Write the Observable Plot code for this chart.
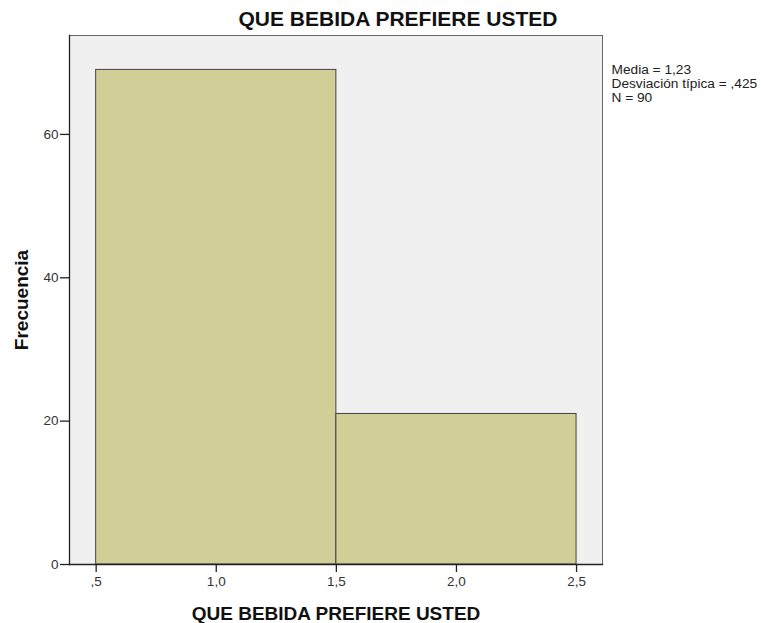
<!DOCTYPE html>
<html>
<head>
<meta charset="utf-8">
<script src="https://cdn.jsdelivr.net/npm/d3@7"></script>
<script src="https://cdn.jsdelivr.net/npm/@observablehq/plot@0.6"></script>
<style>
  body { margin: 0; background: #fff; }
</style>
</head>
<body>
<div id="chart"></div>
<script>
// Data
const binStart = [0.5, 1.5];
const binEnd = [1.5, 2.5];
const counts = [69, 21];
const xTicks = [0.5, 1.0, 1.5, 2.0, 2.5];
const yTicks = [0, 20, 40, 60];
const title = "QUE BEBIDA PREFIERE USTED";
const xLabel = "QUE BEBIDA PREFIERE USTED";
const yLabel = "Frecuencia";
const statsLines = ["Media = 1,23", "Desviación típica = ,425", "N = 90"];

const bins = binStart.map((s, i) => ({x1: s, x2: binEnd[i], count: counts[i]}));

const fmt = v => {
  let s = v.toFixed(1).replace(".", ",");
  if (s.startsWith("0,")) s = s.slice(1);
  return s;
};

const chart = Plot.plot({
  width: 761,
  height: 623,
  marginLeft: 69,
  marginRight: 159,
  marginTop: 35,
  marginBottom: 59,
  style: {fontFamily: "'Liberation Sans', Arial, sans-serif", color: "#222", background: "#fff"},
  x: {domain: [0.389, 2.608], ticks: xTicks, tickFormat: fmt},
  y: {domain: [0, 73.8], ticks: yTicks},
  marks: [
    Plot.frame({fill: "#f0f0f0", stroke: "#666", strokeWidth: 1}),
    Plot.rectY(bins, {x1: "x1", x2: "x2", y: "count", fill: "#d2ce98", stroke: "#444", strokeWidth: 1, inset: 0}),
    Plot.frame({anchor: "left", stroke: "#222", strokeWidth: 1.3}),
    Plot.frame({anchor: "bottom", stroke: "#222", strokeWidth: 1.3}),
    Plot.axisX({ticks: xTicks, tickFormat: fmt, tickSize: 8, tickPadding: 4, fontSize: 13.5, label: null, stroke: "#222", strokeWidth: 1.3, fill: "#333"}),
    Plot.axisY({ticks: yTicks, tickSize: 9, tickPadding: 2, fontSize: 13.5, label: null, stroke: "#222", strokeWidth: 1.3, fill: "#333"}),
    Plot.text([title], {frameAnchor: "top", dx: 62, dy: -16, lineAnchor: "middle", textAnchor: "middle", fontSize: 21, fontWeight: "bold", fill: "#111"}),
    Plot.text([xLabel], {frameAnchor: "bottom", dy: 49, lineAnchor: "middle", textAnchor: "middle", fontSize: 19, fontWeight: "bold", fill: "#111"}),
    Plot.text([yLabel], {frameAnchor: "left", dx: -48, rotate: -90, lineAnchor: "middle", textAnchor: "middle", fontSize: 19, fontWeight: "bold", fill: "#111"}),
    Plot.text([statsLines.join("\n")], {frameAnchor: "top-right", dx: 9, dy: 29, textAnchor: "start", lineAnchor: "top", lineHeight: 1.0, fontSize: 13.7, fill: "#222"})
  ]
});

document.getElementById("chart").appendChild(chart);
</script>
</body>
</html>
